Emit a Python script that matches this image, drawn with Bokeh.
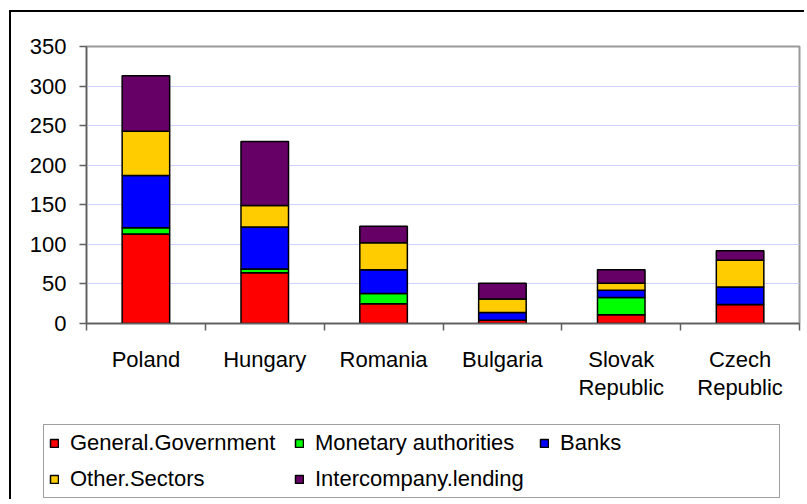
from bokeh.plotting import figure
from bokeh.models import (Range1d, LinearAxis, FixedTicker, Legend,
                          LegendItem, ColumnDataSource)
from bokeh.embed import file_html
from bokeh.resources import INLINE

# ---- data ----
countries = ["Poland", "Hungary", "Romania", "Bulgaria", "Slovak Republic", "Czech Republic"]
country_labels = ["Poland", "Hungary", "Romania", "Bulgaria", "Slovak\nRepublic", "Czech\nRepublic"]
series = ["General.Government", "Monetary authorities", "Banks", "Other.Sectors", "Intercompany.lending"]
general_government = [113, 64, 25, 4, 11, 24]
monetary_authorities = [8, 5, 13, 0, 22, 0]
banks = [66, 53, 30, 10, 9, 22]
other_sectors = [56, 27, 34, 17, 9, 34]
intercompany_lending = [70, 81, 21, 20, 17, 12]
colors = ["#FF0000", "#00FF00", "#0000FF", "#FFCC00", "#660066"]
y_ticks = [0, 50, 100, 150, 200, 250, 300, 350]

FONT = "Liberation Sans"
FS = "22px"

n = len(countries)
# category index -> centre position on the category axis
cat_pos = [i + 0.5 for i in range(n)]

keys = ["gg", "ma", "banks", "other", "inter"]
source = ColumnDataSource(dict(x=cat_pos, gg=general_government, ma=monetary_authorities,
                               banks=banks, other=other_sectors, inter=intercompany_lending))

p = figure(x_range=Range1d(0, n), y_range=Range1d(y_ticks[0], y_ticks[-1]),
           width=795, height=414, output_backend="svg", toolbar_location=None,
           x_axis_location=None, min_border_left=75, min_border_right=7,
           min_border_top=34, min_border_bottom=103,
           background_fill_color="white", border_fill_color="white")
p.styles = {"position": "relative", "left": "9px", "top": "10px",
            "border-left": "2px solid black", "border-top": "2px solid black"}

p.outline_line_color = "#999999"
p.outline_line_width = 2

# bars
renderers = p.vbar_stack(keys, x="x", width=0.4, fill_color=colors,
                         line_color="black", line_width=1.5, source=source)

# y axis
p.yaxis.ticker = FixedTicker(ticks=y_ticks)
p.yaxis.minor_tick_line_color = None
p.yaxis.major_tick_in = 0
p.yaxis.major_tick_out = 7
p.yaxis.major_tick_line_color = "#606060"
p.yaxis.major_tick_line_width = 1.5
p.yaxis.axis_line_color = "#606060"
p.yaxis.axis_line_width = 1.5
p.yaxis.major_label_standoff = 13
p.yaxis.major_label_text_font = FONT
p.yaxis.major_label_text_font_size = FS
p.yaxis.major_label_text_color = "black"

p.ygrid.ticker = FixedTicker(ticks=y_ticks)
p.ygrid.grid_line_color = "#d0d0ff"
p.ygrid.grid_line_width = 1
p.xgrid.visible = False

# x axis: category labels at centres, tick marks at category boundaries
xaxis = LinearAxis(ticker=FixedTicker(ticks=cat_pos, minor_ticks=list(range(n + 1))),
                   major_label_overrides={c: lab for c, lab in zip(cat_pos, country_labels)},
                   major_tick_in=0, major_tick_out=0,
                   minor_tick_in=0, minor_tick_out=7,
                   minor_tick_line_color="#606060", minor_tick_line_width=1.5,
                   axis_line_color="#606060", axis_line_width=1.5,
                   major_label_standoff=16,
                   major_label_text_font=FONT, major_label_text_font_size=FS,
                   major_label_text_color="black", major_label_text_line_height=1.15)
p.add_layout(xaxis, "below")

# legend strip: a second figure showing the same stacked series, with its view
# range set below zero so only the legend is visible
p_leg = figure(width=795, height=75, x_range=Range1d(0, n), y_range=Range1d(-2, -1),
               output_backend="svg", toolbar_location=None,
               x_axis_location=None, y_axis_location=None,
               min_border_left=0, min_border_right=0, min_border_top=0, min_border_bottom=0,
               background_fill_color="white", border_fill_color="white")
p_leg.styles = {"position": "relative", "left": "9px", "top": "10px",
                "border-left": "2px solid black"}
p_leg.outline_line_color = None
p_leg.grid.visible = False
leg_renderers = p_leg.vbar_stack(keys, x="x", width=0.4, fill_color=colors,
                                 line_color="black", line_width=1.5, source=source)

legend = Legend(items=[LegendItem(label=s, renderers=[r]) for s, r in zip(series, leg_renderers)],
                location=(32, 1), orientation="horizontal", ncols=3,
                glyph_width=10, glyph_height=10, label_standoff=11, label_width=214,
                spacing=10, padding=5, margin=0,
                label_text_font=FONT, label_text_font_size=FS, label_text_color="black",
                border_line_color="#404040", border_line_width=1.5,
                background_fill_color="white", background_fill_alpha=1)
p_leg.add_layout(legend, "center")

open("out.html", "w").write(file_html([p, p_leg], INLINE))
